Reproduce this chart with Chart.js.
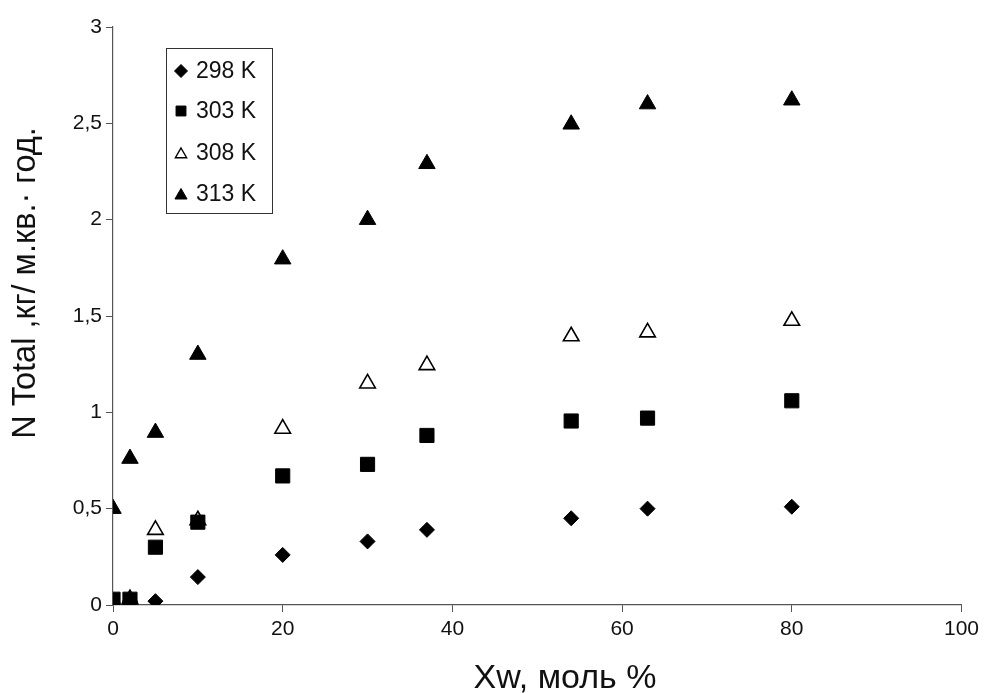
<!DOCTYPE html>
<html>
<head>
<meta charset="utf-8">
<script src="https://cdn.jsdelivr.net/npm/chart.js@4"></script>
<style>
  html, body { margin: 0; padding: 0; background: #fff; }
  #wrap { width: 984px; height: 693px; }
</style>
</head>
<body>
<div id="wrap"><canvas id="scatter-chart"></canvas></div>
<script>
// мольная доля воды, %
var xw = [0, 2, 5, 10, 20, 30, 37, 54, 63, 80];

// N Total при разных температурах
var n298 = [0.01, 0.02, 0.02, 0.145, 0.26, 0.33, 0.39, 0.45, 0.50, 0.51];
var n303 = [0.03, 0.03, 0.30, 0.43, 0.67, 0.73, 0.88, 0.955, 0.97, 1.06];
var n308 = [0.01, 0.03, 0.39, 0.44, 0.915, 1.15, 1.245, 1.395, 1.415, 1.475];
var n313 = [0.50, 0.76, 0.895, 1.30, 1.795, 2.00, 2.29, 2.495, 2.60, 2.62];

var seriesLabels = ['298 K', '303 K', '308 K', '313 K'];
var yTicks = ['0', '0,5', '1', '1,5', '2', '2,5', '3'];
var xTitle = 'Xw, моль %';
var yTitle = 'N Total ,кг/ м.кв.· год.';

function points(ys) {
    return xw.map(function(x, i) { return { x: x, y: ys[i] }; });
}

var FONT = '"Liberation Sans", Arial, sans-serif';

var styles = [
    { pointStyle: 'rectRot', radius: 7.5, bg: '#000', border: '#000', bw: 1 },
    { pointStyle: 'rect', radius: 10, bg: '#000', border: '#000', bw: 1 },
    { pointStyle: 'triangle', radius: 9, bg: '#fff', border: '#000', bw: 1.6 },
    { pointStyle: 'triangle', radius: 9.5, bg: '#000', border: '#000', bw: 1 }
];

var datasets = [n298, n303, n308, n313].map(function(ys, i) {
    var s = styles[i];
    return {
        label: seriesLabels[i],
        data: points(ys),
        showLine: false,
        pointStyle: s.pointStyle,
        pointRadius: s.radius,
        pointHoverRadius: s.radius,
        backgroundColor: s.bg,
        borderColor: s.border,
        pointBorderWidth: s.bw
    };
});

// axis titles, drawn by hand so they sit off-centre like in the figure
var axisTitles = {
    id: 'axisTitles',
    afterDraw: function(chart) {
        var ctx = chart.ctx;
        ctx.save();
        ctx.fillStyle = '#111';
        ctx.textAlign = 'center';
        ctx.textBaseline = 'alphabetic';
        ctx.font = '34px ' + FONT;
        ctx.fillText(xTitle, 565, 688);
        ctx.font = '32.5px ' + FONT;
        ctx.translate(35, 283);
        ctx.rotate(-Math.PI / 2);
        ctx.fillText(yTitle, 0, 0);
        ctx.restore();
    }
};

// legend in a framed box inside the plot area
var boxLegend = {
    id: 'boxLegend',
    afterDraw: function(chart) {
        var ctx = chart.ctx;
        var x0 = 166, y0 = 48, w = 106, h = 165;
        var rowY = [71, 111, 153, 194];
        var legendSize = [6.5, 7, 6.5, 7];
        ctx.save();
        ctx.fillStyle = '#fff';
        ctx.fillRect(x0, y0, w, h);
        ctx.strokeStyle = '#333';
        ctx.lineWidth = 1;
        ctx.strokeRect(x0 + 0.5, y0 + 0.5, w, h);
        ctx.font = '23px ' + FONT;
        ctx.textBaseline = 'middle';
        chart.data.datasets.forEach(function(ds, i) {
            var cy = rowY[i];
            ctx.fillStyle = ds.backgroundColor;
            ctx.strokeStyle = ds.borderColor;
            ctx.lineWidth = i === 2 ? 1.4 : 1;
            Chart.helpers.drawPoint(ctx, {
                pointStyle: ds.pointStyle,
                radius: legendSize[i],
                borderWidth: ctx.lineWidth
            }, 181, cy + (ds.pointStyle === 'triangle' ? 1.5 : 0));
            ctx.fillStyle = '#111';
            ctx.fillText(ds.label, 196, cy + 1);
        });
        ctx.restore();
    }
};

var ctx = document.getElementById('scatter-chart');
var chart = new Chart(ctx, {
    type: 'scatter',
    data: { datasets: datasets },
    plugins: [axisTitles, boxLegend],
    options: {
        responsive: true,
        maintainAspectRatio: false,
        animation: false,
        layout: { padding: { top: 27, right: 22, left: 0, bottom: 0 } },
        plugins: {
            legend: { display: false },
            tooltip: { enabled: false }
        },
        scales: {
            x: {
                type: 'linear',
                min: 0,
                max: 100,
                afterFit: function(scale) { scale.height = 88; },
                ticks: {
                    stepSize: 20,
                    color: '#111',
                    padding: 5,
                    font: { family: FONT, size: 21 }
                },
                grid: {
                    drawOnChartArea: false,
                    drawTicks: true,
                    tickLength: 7,
                    color: '#555'
                },
                border: { color: '#555', width: 1.2 }
            },
            y: {
                type: 'linear',
                min: 0,
                max: 3,
                afterFit: function(scale) { scale.width = 113; },
                ticks: {
                    stepSize: 0.5,
                    color: '#111',
                    padding: 4,
                    font: { family: FONT, size: 21 },
                    callback: function(v) { return yTicks[Math.round(v * 2)]; }
                },
                grid: {
                    drawOnChartArea: false,
                    drawTicks: true,
                    tickLength: 7,
                    color: '#555'
                },
                border: { color: '#555', width: 1.2 }
            }
        }
    }
});
</script>
</body>
</html>
